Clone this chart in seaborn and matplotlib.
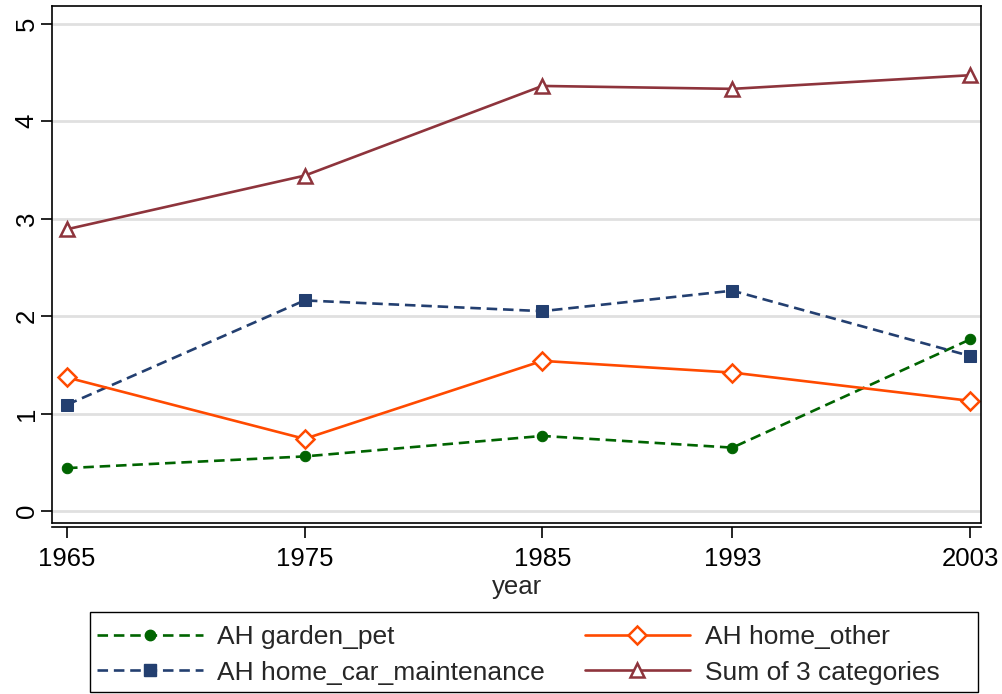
import numpy as np
import pandas as pd
import matplotlib.pyplot as plt
import seaborn as sns
from matplotlib.lines import Line2D
from matplotlib.patches import Rectangle

# -----------------------------
# Data
# -----------------------------
years = [1965, 1975, 1985, 1993, 2003]
garden_pet = [0.44, 0.56, 0.77, 0.65, 1.76]
home_car_maintenance = [1.09, 2.16, 2.05, 2.26, 1.59]
home_other = [1.37, 0.74, 1.54, 1.42, 1.13]
sum_3 = [2.89, 3.44, 4.36, 4.33, 4.47]

labels = ["AH garden_pet", "AH home_car_maintenance", "AH home_other", "Sum of 3 categories"]

# -----------------------------
# Style
# -----------------------------
sns.set_theme(style="white")
plt.rcParams['font.family'] = ['Liberation Sans', 'DejaVu Sans']

green = "#006400"
navy = "#233f70"
orange = "#ff4a00"
maroon = "#8e343c"

series = [
    (garden_pet, labels[0], dict(color=green, linestyle=(0, (4, 2.2)), marker="o", ms=7.5, mfc=green, mec=green)),
    (home_car_maintenance, labels[1], dict(color=navy, linestyle=(0, (4, 2.2)), marker="s", ms=9, mfc=navy, mec=navy)),
    (home_other, labels[2], dict(color=orange, linestyle="-", marker="D", ms=9, mfc="white", mec=orange, mew=1.8)),
    (sum_3, labels[3], dict(color=maroon, linestyle="-", marker="^", ms=10, mfc="white", mec=maroon, mew=1.8)),
]

fig = plt.figure(figsize=(10.03, 6.94), dpi=100)
ax = fig.add_axes([52 / 1003, 1 - 523 / 694, (981 - 52) / 1003, (523 - 6) / 694])

for yvals, lab, st in series:
    df = pd.DataFrame({"year": years, "value": yvals})
    sns.lineplot(data=df, x="year", y="value", ax=ax, lw=1.9, legend=False, **st)

ax.set_xlim(1964.37, 2003.46)
ax.set_ylim(-0.123, 5.18)
ax.set_xticks(years)
ax.set_yticks([0, 1, 2, 3, 4, 5])
ax.set_yticklabels(["0", "1", "2", "3", "4", "5"], rotation=90, va="center")
ax.tick_params(axis="both", labelsize=18.5, colors="black", direction="out",
               length=8, width=1.2, bottom=True, left=True)
ax.tick_params(axis="y", pad=1.5)
ax.tick_params(axis="x", pad=6)
ax.grid(axis="y", color="#e0e0e0", lw=2)
ax.grid(axis="x", visible=False)

ax.set_xlabel("year", fontsize=18.5, labelpad=3)
ax.set_ylabel("")

for s in ax.spines.values():
    s.set_color("black")
    s.set_linewidth(1.2)
ax.spines["bottom"].set_position(("outward", 3))
# frame bottom edge (Stata-like double line)
ax.plot([0, 1], [0, 0], transform=ax.transAxes, color="black", lw=1.2, clip_on=False)

# -----------------------------
# Legend
# -----------------------------
handles = [Line2D([], [], lw=1.9, **st) for _, _, st in series]

leg = fig.legend(handles, labels, ncol=2,
                 bbox_to_anchor=(92 / 1003, 1 - 690 / 694),
                 loc="lower left", fontsize=19, frameon=False,
                 handlelength=4.0, handletextpad=0.55, borderaxespad=0,
                 labelspacing=0.45, columnspacing=1.5, borderpad=0.2)

fig.patches.append(Rectangle((90 / 1003, 1 - 692 / 694), 888 / 1003, 80 / 694,
                             transform=fig.transFigure, fill=False,
                             edgecolor="black", lw=1.0))

fig.savefig("out.png", dpi=100)
